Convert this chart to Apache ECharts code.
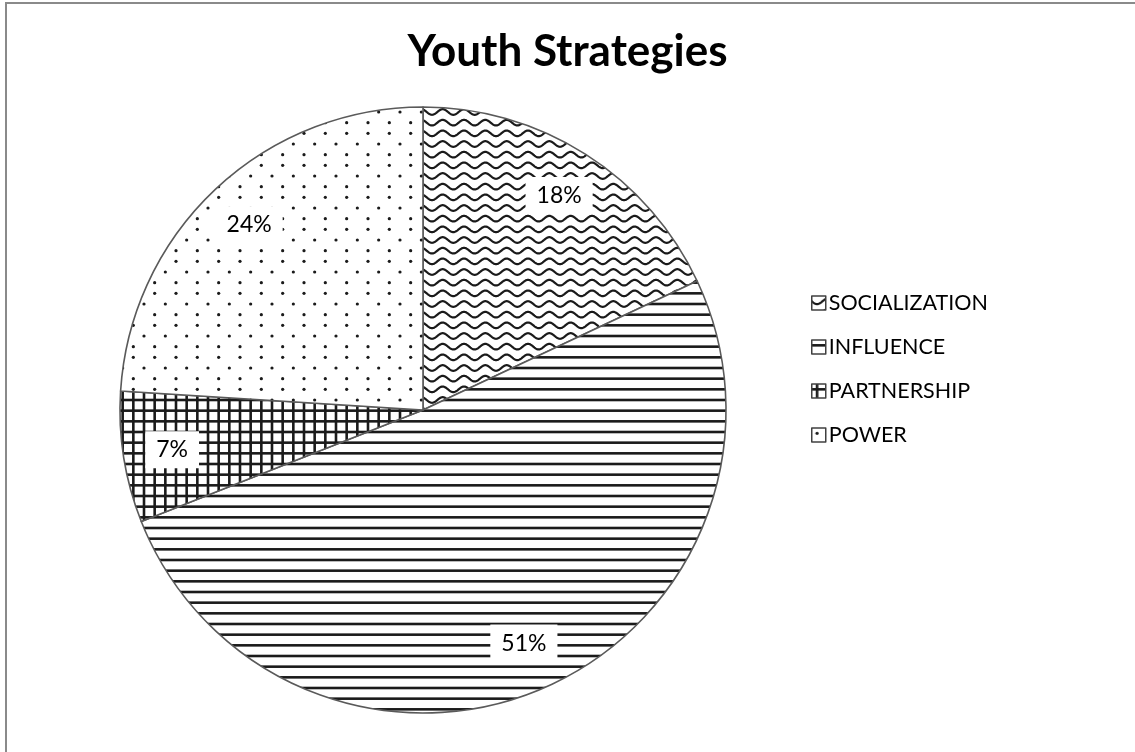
<!DOCTYPE html>
<html>
<head>
<meta charset="utf-8">
<title>Youth Strategies</title>
<script src="https://cdn.jsdelivr.net/npm/echarts@6/dist/echarts.min.js"></script>
<style>
  html, body { margin: 0; padding: 0; background: #fff; }
  #chart { width: 1135px; height: 752px; }
</style>
</head>
<body>
<div id="chart"></div>
<script>
// Chart data
const chartTitle = 'Youth Strategies';
const categories = ['SOCIALIZATION', 'INFLUENCE', 'PARTNERSHIP', 'POWER'];
const shares = [18, 51, 7, 24]; // percent of responses

// Hatch tiles (spacing of 32/3 px so three periods fit one tile)
const STEP = 32 / 3;
const INK = '#1a1a1a';

function makeTile(w, h, draw) {
  const c = document.createElement('canvas');
  c.width = w; c.height = h;
  const g = c.getContext('2d');
  g.fillStyle = '#fff';
  g.fillRect(0, 0, w, h);
  g.strokeStyle = INK;
  g.fillStyle = INK;
  draw(g, w, h);
  return { image: c, repeat: 'repeat' };
}

// wavy rows
const wavePattern = makeTile(64, 32, function (g, w, h) {
  const period = 64 / 3, amp = 2.8;
  g.lineWidth = 2.2;
  g.lineJoin = 'round';
  for (let r = -1; r <= 3; r++) {
    const y0 = r * STEP + STEP / 2;
    g.beginPath();
    for (let x = -2; x <= w + 2; x += 0.5) {
      const y = y0 + amp * Math.sin(2 * Math.PI * x / period);
      if (x === -2) g.moveTo(x, y); else g.lineTo(x, y);
    }
    g.stroke();
  }
});

// horizontal lines
const linePattern = makeTile(32, 32, function (g, w, h) {
  g.lineWidth = 2.6;
  for (let r = 0; r < 3; r++) {
    const y = r * STEP + STEP / 2;
    g.beginPath(); g.moveTo(0, y); g.lineTo(w, y); g.stroke();
  }
});

// square grid
const gridPattern = makeTile(32, 32, function (g, w, h) {
  g.lineWidth = 2.6;
  for (let r = 0; r < 3; r++) {
    const p = r * STEP + STEP / 2;
    g.beginPath(); g.moveTo(0, p); g.lineTo(w, p); g.stroke();
    g.beginPath(); g.moveTo(p, 0); g.lineTo(p, h); g.stroke();
  }
});

// staggered dots
const dotPattern = makeTile(64, 32, function (g, w, h) {
  const dx = 64 / 3;
  for (let r = 0; r < 3; r++) {
    const y = r * STEP + STEP / 2;
    const off = (r % 2) ? dx / 2 : 0;
    for (let c = -1; c <= 3; c++) {
      g.beginPath();
      g.arc(c * dx + off + dx / 4, y, 1.6, 0, Math.PI * 2);
      g.fill();
    }
  }
});

const fills = [wavePattern, linePattern, gridPattern, dotPattern];

const FONT = 'Lato, "Open Sans", sans-serif';

const sliceData = categories.map(function (name, i) {
  return { name: name, value: shares[i], itemStyle: { color: fills[i] } };
});
const labelData = categories.map(function (name, i) {
  return { name: name, value: shares[i] };
});

const chart = echarts.init(document.getElementById('chart'), null, { renderer: 'canvas' });

chart.setOption({
  animation: false,
  backgroundColor: '#fff',
  title: {
    text: chartTitle,
    left: 'center',
    top: 25,
    textStyle: { fontFamily: FONT, fontWeight: 'bold', fontSize: 44, color: '#000' }
  },
  legend: {
    orient: 'vertical',
    left: 806,
    top: 287,
    itemGap: 22,
    itemWidth: 14,
    itemHeight: 14,
    icon: 'rect',
    data: categories,
    selectedMode: false,
    textStyle: { fontFamily: FONT, fontSize: 21.5, color: '#000', padding: [0, 0, 0, -2] },
    itemStyle: { borderColor: '#404040', borderWidth: 1.5 }
  },
  graphic: [{
    type: 'rect',
    shape: { x: 6, y: 3, width: 1400, height: 1000 },
    style: { fill: 'none', stroke: '#8a8a8a', lineWidth: 2 },
    silent: true,
    z: -1
  }],
  series: [
    {
      name: 'Youth Strategies',
      type: 'pie',
      center: [423, 410],
      radius: [0, 303],
      startAngle: 90,
      clockwise: true,
      silent: true,
      label: { show: false },
      labelLine: { show: false },
      itemStyle: { borderColor: '#5a5a5a', borderWidth: 1.6 },
      emphasis: { disabled: true },
      data: sliceData
    },
    {
      name: 'share labels',
      type: 'pie',
      center: [423, 410],
      radius: [199, 303],
      startAngle: 90,
      clockwise: true,
      silent: true,
      legendHoverLink: false,
      itemStyle: { color: 'rgba(0,0,0,0)', borderWidth: 0 },
      emphasis: { disabled: true },
      labelLine: { show: false },
      label: {
        show: true,
        position: 'inside',
        formatter: function (p) { return p.value + '%'; },
        fontFamily: FONT,
        fontSize: 23,
        color: '#000',
        backgroundColor: '#fff',
        padding: [8, 11, 6, 11]
      },
      data: labelData
    }
  ]
});
</script>
</body>
</html>
